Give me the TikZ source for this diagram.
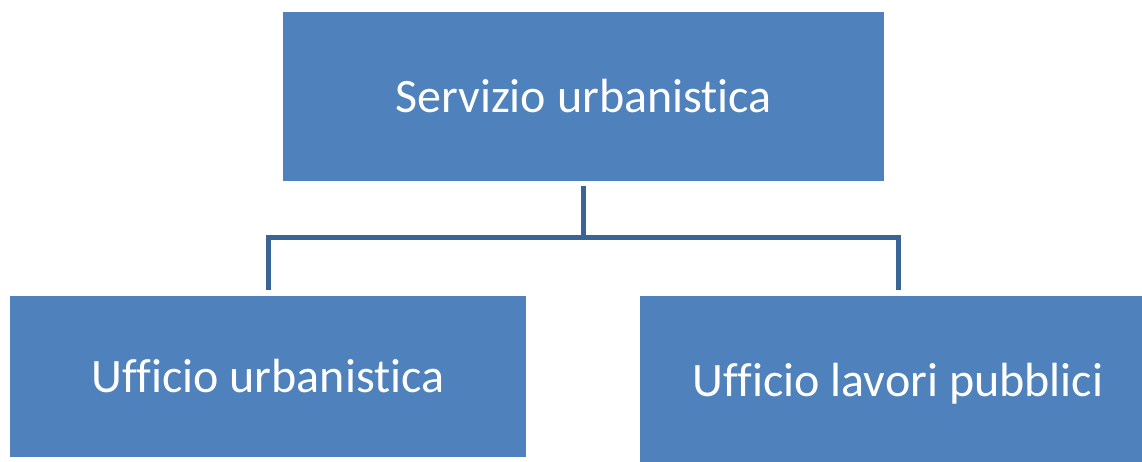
\documentclass[tikz,border=0pt]{standalone}
\usepackage{fontspec}
\setmainfont[Ligatures=NoCommon]{Carlito}
\definecolor{boxfill}{HTML}{4F81BD}
\definecolor{linecol}{HTML}{3B6496}
\begin{document}
\begin{tikzpicture}[x=1pt,y=-1pt,
  box/.style={draw=none,fill=boxfill,text=white,inner sep=0pt,
    font=\fontsize{48}{57}\selectfont},
  conn/.style={draw=linecol,line width=5pt,line join=miter}]
\path[use as bounding box] (0,0) rectangle (1142,462);
\clip (0,0) rectangle (1142,462);
\node[box,minimum width=601pt,minimum height=168.5pt] (top) at (583.5,96.5) {Servizio urbanistica};
\node[box,minimum width=516pt,minimum height=161pt] (left) at (268,376.5) {Ufficio urbanistica};
\node[box,minimum width=516pt,minimum height=176pt] (right) at (898,384) {Ufficio lavori pubblici};
\coordinate (bus) at (0,238);
\draw[conn] ([yshift=-5pt]top.south) -- (top.south |- bus) -| ([yshift=6pt]left.north);
\draw[conn] (top.south |- bus) -| ([yshift=6pt]right.north);
\end{tikzpicture}
\end{document}
